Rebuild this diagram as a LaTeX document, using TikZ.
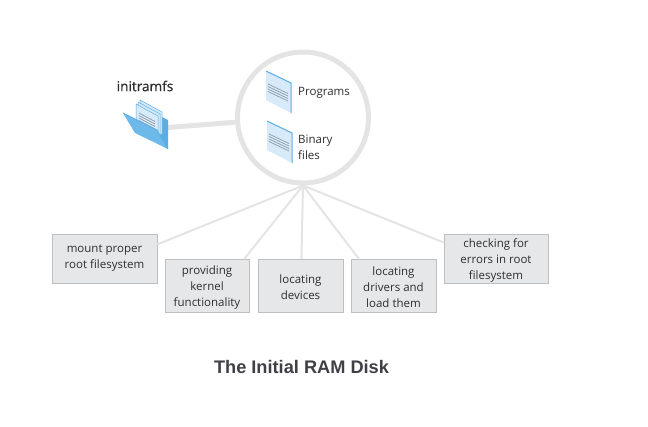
\documentclass[tikz,border=0pt]{standalone}
\usepackage{fontspec}
\setmainfont{Open Sans}
\newfontfamily\titlefont{Liberation Sans}
\newfontfamily\headfont[FakeBold=0.6]{Open Sans}
\definecolor{BoxFill}{HTML}{E6E7E8}
\definecolor{BoxLine}{HTML}{BCBEC0}
\definecolor{LinkGray}{HTML}{E4E4E4}
\definecolor{TextDark}{HTML}{2E2E2E}
\definecolor{TitleGray}{HTML}{3F3F46}
\definecolor{DocFill}{HTML}{D6EAF9}
\definecolor{DocBlue}{HTML}{5AAEE3}
\definecolor{DocLine}{HTML}{8F9BA6}
\definecolor{FlapBlue}{HTML}{6DB9EA}
\tikzset{
  taskbox/.style={draw=BoxLine,fill=BoxFill,line width=1pt,align=center,inner sep=0pt,
    text=TextDark,font=\fontsize{11.5}{16}\selectfont},
  disklabel/.style={right,align=left,inner sep=0pt,text=TextDark,font=\fontsize{11.5}{16}\selectfont},
  link/.style={draw=LinkGray,line width=2pt},
  doc/.style={fill=DocFill,draw=none},
  docedge/.style={draw=DocBlue,line width=1pt},
  docline/.style={draw=DocLine,line width=.7pt}
}
\newcommand{\tasktop}{\rule{0pt}{12pt}}
\newcommand{\docsheet}[2]{%
  \fill[doc] (#1,#2) -- ++(25,12) -- ++(0,30) -- ++(-25,-13) -- cycle;
  \draw[docedge] (#1,#2) -- ++(25,12) -- ++(0,30);
  \foreach \k in {0,1,2,3}
    \draw[docline] (#1+2,#2+13+2.5*\k) -- ++(20,9.5);
}
\begin{document}
\begin{tikzpicture}[x=1pt,y=-1pt]
  \useasboundingbox (0,0) rectangle (648,426);

  % Disk circle
  \node[circle,draw=LinkGray,line width=5pt,minimum size=131pt,inner sep=0pt] (ramdisk) at (303,117.5) {};

  % Tasks
  \node[taskbox,minimum width=105pt,minimum height=49pt] (mountbox) at (104.5,258.5) {mount proper\\root filesystem};
  \node[taskbox,minimum width=84pt,minimum height=53pt] (kernelbox) at (207,286) {\tasktop providing\\kernel\\functionality};
  \node[taskbox,minimum width=85pt,minimum height=53pt] (devicebox) at (300.5,286) {\tasktop locating\\devices};
  \node[taskbox,minimum width=85pt,minimum height=53pt] (driverbox) at (393.5,286) {\tasktop locating\\drivers and\\load them};
  \node[taskbox,minimum width=104pt,minimum height=49pt] (checkbox) at (496,258.5) {\tasktop checking for\\errors in root\\filesystem};

  % Links to the circle
  \draw[link] (ramdisk.south) -- (mountbox.15);
  \draw[link] (ramdisk.south) -- (kernelbox.36);
  \draw[link] (ramdisk.south) -- (devicebox.88);
  \draw[link] (ramdisk.south) -- (driverbox.142);
  \draw[link] (ramdisk.south) -- (checkbox.163);

  % Files in the circle
  \docsheet{266}{71}
  \docsheet{267}{121}
  \node[disklabel] (programs) at (298,92.5) {Programs};
  \node[disklabel] (binary) at (298,147.5) {Binary\\files};

  % Folder
  \coordinate (folderpt) at (168,127.5);
  \draw[draw=LinkGray,line width=5pt] (folderpt) -- (ramdisk.184);
  \fill[DocBlue] (162,117) -- (168,120) -- (168,149) -- (150,139) -- cycle;
  \foreach \d in {4,2,0}
    \fill[DocFill,draw=DocBlue,line width=.5pt] (136+\d,104-\d) -- (158+\d,116-\d) -- (158+\d,139-\d) -- (136+\d,127-\d) -- cycle;
  \foreach \k in {0,1,2,3}
    \draw[docline] (139,113+2.5*\k) -- ++(16,8.5);
  \fill[FlapBlue] (123,113) -- (157,130) -- (168,149) -- (135,133) -- cycle;
  \draw[DocBlue,line width=.7pt] (123,113) -- (157,130) -- (168,149);
  \node[text=TextDark,inner sep=0pt,font=\fontsize{13.6}{15}\headfont] (initramfs) at (145,86) {initramfs};

  % Title
  \node[text=TitleGray,inner sep=0pt,font=\fontsize{18.2}{20}\titlefont\bfseries] (diskcaption) at (301.5,367) {The Initial RAM Disk};
\end{tikzpicture}
\end{document}
